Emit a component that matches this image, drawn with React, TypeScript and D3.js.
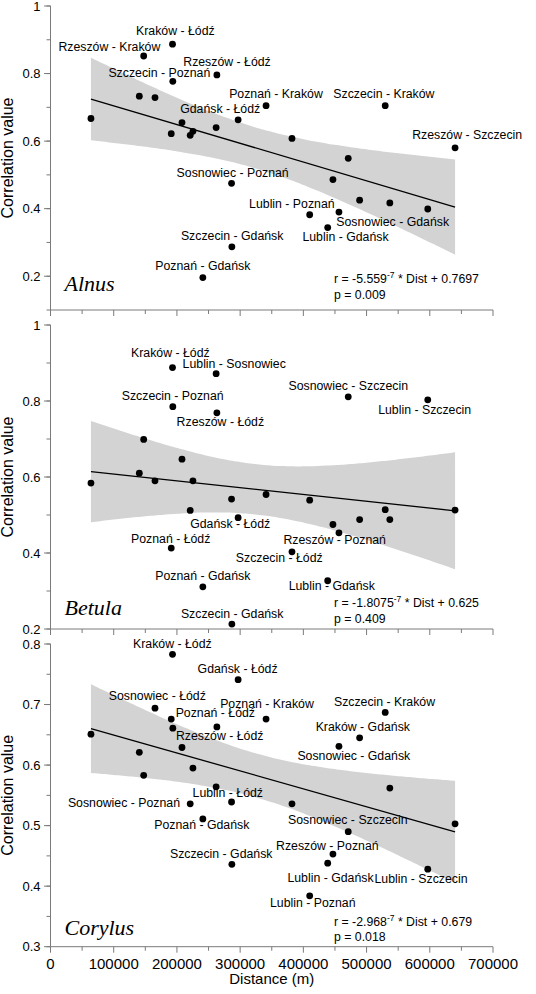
import React from 'react';
import * as d3 from 'd3';

// ---------- DATA ----------
const distances = [
  64000, 140500, 147400, 165300, 191000, 193000, 193500, 208000, 221000, 225300,
  241000, 262000, 263200, 286400, 286900, 296800, 341000, 382000, 410000, 438500,
  446800, 456300, 471000, 489000, 529500, 536800, 596800, 640000,
];

const alnusValues = [
  0.667, 0.733, 0.852, 0.729, 0.622, 0.887, 0.777, 0.655, 0.617, 0.629,
  0.196, 0.640, 0.796, 0.475, 0.287, 0.663, 0.705, 0.608, 0.382, 0.344,
  0.486, 0.390, 0.549, 0.425, 0.705, 0.417, 0.399, 0.580,
];

const betulaValues = [
  0.584, 0.610, 0.699, 0.590, 0.413, 0.888, 0.785, 0.647, 0.512, 0.590,
  0.311, 0.872, 0.769, 0.542, 0.213, 0.493, 0.554, 0.403, 0.539, 0.327,
  0.475, 0.453, 0.811, 0.488, 0.514, 0.488, 0.803, 0.513,
];

const corylusValues = [
  0.651, 0.621, 0.583, 0.694, 0.676, 0.783, 0.661, 0.629, 0.536, 0.595,
  0.511, 0.564, 0.663, 0.539, 0.436, 0.741, 0.676, 0.536, 0.384, 0.438,
  0.453, 0.631, 0.490, 0.645, 0.687, 0.562, 0.428, 0.503,
];

// label text, anchor distance, anchor value (data units)
const alnusLabels: [string, number, number][] = [
  ['Kraków - Łódź', 135300, 0.914],
  ['Rzeszów - Kraków', 12600, 0.867],
  ['Rzeszów - Łódź', 210000, 0.823],
  ['Szczecin - Poznań', 91600, 0.791],
  ['Poznań - Kraków', 282600, 0.727],
  ['Szczecin - Kraków', 447400, 0.727],
  ['Gdańsk - Łódź', 205200, 0.684],
  ['Rzeszów - Szczecin', 572100, 0.606],
  ['Sosnowiec - Poznań', 199500, 0.495],
  ['Lublin - Poznań', 314200, 0.401],
  ['Sosnowiec - Gdańsk', 452100, 0.350],
  ['Lublin - Gdańsk', 398500, 0.304],
  ['Szczecin - Gdańsk', 206300, 0.307],
  ['Poznań - Gdańsk', 165800, 0.218],
];

const betulaLabels: [string, number, number][] = [
  ['Kraków - Łódź', 127400, 0.917],
  ['Lublin - Sosnowiec', 209000, 0.888],
  ['Sosnowiec - Szczecin', 376400, 0.829],
  ['Szczecin - Poznań', 112700, 0.803],
  ['Lublin - Szczecin', 518400, 0.765],
  ['Rzeszów - Łódź', 199500, 0.734],
  ['Gdańsk - Łódź', 221000, 0.467],
  ['Poznań - Łódź', 127400, 0.427],
  ['Rzeszów - Poznań', 368500, 0.423],
  ['Szczecin - Łódź', 293200, 0.377],
  ['Poznań - Gdańsk', 165800, 0.329],
  ['Lublin - Gdańsk', 376800, 0.303],
  ['Szczecin - Gdańsk', 206300, 0.230],
];

const corylusLabels: [string, number, number][] = [
  ['Kraków - Łódź', 130600, 0.794],
  ['Gdańsk - Łódź', 232700, 0.752],
  ['Sosnowiec - Łódź', 92200, 0.708],
  ['Poznań - Kraków', 268400, 0.694],
  ['Szczecin - Kraków', 448400, 0.698],
  ['Poznań - Łódź', 198000, 0.679],
  ['Kraków - Gdańsk', 419500, 0.656],
  ['Rzeszów - Łódź', 198400, 0.641],
  ['Sosnowiec - Gdańsk', 390600, 0.608],
  ['Lublin - Łódź', 224800, 0.548],
  ['Sosnowiec - Poznań', 27500, 0.531],
  ['Poznań - Gdańsk', 164200, 0.494],
  ['Sosnowiec - Szczecin', 375700, 0.502],
  ['Rzeszów - Poznań', 356800, 0.459],
  ['Szczecin - Gdańsk', 189000, 0.447],
  ['Lublin - Gdańsk', 374800, 0.407],
  ['Lublin - Szczecin', 512600, 0.405],
  ['Lublin - Poznań', 347300, 0.365],
];

const speciesNames = ['Alnus', 'Betula', 'Corylus'];
const slopeTexts = ['-5.559', '-1.8075', '-2.968'];
const interceptTexts = ['0.7697', '0.625', '0.679'];
const pTexts = ['0.009', '0.409', '0.018'];
// anchor of species name and equation block (distance, value)
const nameAnchors: [number, number][] = [[22100, 0.156], [22100, 0.237], [22100, 0.319]];
const eqAnchors: [number, number, number][] = [[448400, 0.181, 0.133], [448400, 0.259, 0.217], [448400, 0.334, 0.309]];

const xTicksMajor = [0, 100000, 200000, 300000, 400000, 500000, 600000, 700000];
const alnusYTicks = [0.2, 0.4, 0.6, 0.8, 1];
const betulaYTicks = [0.2, 0.4, 0.6, 0.8, 1];
const corylusYTicks = [0.3, 0.4, 0.5, 0.6, 0.7, 0.8];

// ---------- LAYOUT ----------
const W = 536;
const H = 994;
const X0 = 50.5;
const X1 = 493;
const panels = [
  { values: alnusValues, labels: alnusLabels, domain: [0.1, 1], range: [310, 6], ticks: alnusYTicks, minorStep: 0.1 },
  { values: betulaValues, labels: betulaLabels, domain: [0.2, 1], range: [629, 325], ticks: betulaYTicks, minorStep: 0.1 },
  { values: corylusValues, labels: corylusLabels, domain: [0.3, 0.8], range: [946.7, 644], ticks: corylusYTicks, minorStep: 0.05 },
];

const SANS = '"Liberation Sans", Arial, Helvetica, sans-serif';
const SERIF = '"Liberation Serif", "Times New Roman", serif';
const AXIS = '#7a7a7a';

function fit(xs: number[], ys: number[]) {
  const n = xs.length;
  const mx = d3.mean(xs)!;
  const my = d3.mean(ys)!;
  let sxx = 0, sxy = 0;
  for (let i = 0; i < n; i++) {
    sxx += (xs[i] - mx) ** 2;
    sxy += (xs[i] - mx) * (ys[i] - my);
  }
  const b = sxy / sxx;
  const a = my - b * mx;
  let sse = 0;
  for (let i = 0; i < n; i++) sse += (ys[i] - (a + b * xs[i])) ** 2;
  const s = Math.sqrt(sse / (n - 2));
  const t = 2.056;
  const [lo, hi] = d3.extent(xs) as [number, number];
  const band = d3.range(0, 81).map((k) => {
    const x = lo + ((hi - lo) * k) / 80;
    const yh = a + b * x;
    const h = t * s * Math.sqrt(1 / n + (x - mx) ** 2 / sxx);
    return { x, y0: yh - h, y1: yh + h, yh };
  });
  return { a, b, band, lo, hi };
}

export default function App() {
  const x = d3.scaleLinear().domain([0, 700000]).range([X0, X1]);
  const xMinor = d3.range(0, 700001, 50000);

  return (
    <svg
      width={W}
      height={H}
      viewBox={`0 0 ${W} ${H}`}
      style={{ position: 'absolute', left: 0, top: 0, background: '#fff', display: 'block' }}
    >
      <rect x={0} y={0} width={W} height={H} fill="#fff" />
      {panels.map((p, pi) => {
        const y = d3.scaleLinear().domain(p.domain).range(p.range);
        const f = fit(distances, p.values);
        const area = d3
          .area<{ x: number; y0: number; y1: number }>()
          .x((d) => x(d.x))
          .y0((d) => y(d.y0))
          .y1((d) => y(d.y1))
          .curve(d3.curveMonotoneX);
        const minorY = d3.range(p.domain[0], p.domain[1] + 1e-9, p.minorStep);
        const yBottom = p.range[0];
        const yTop = p.range[1];
        const [nx, ny] = nameAnchors[pi];
        const [ex, ey1, ey2] = eqAnchors[pi];
        return (
          <g key={pi}>
            <path d={area(f.band) || ''} fill="#d3d3d3" />
            <line
              x1={x(f.lo)}
              x2={x(f.hi)}
              y1={y(f.a + f.b * f.lo)}
              y2={y(f.a + f.b * f.hi)}
              stroke="#000"
              strokeWidth={1.3}
            />
            {/* y axis */}
            <line x1={X0} x2={X0} y1={yBottom} y2={yTop} stroke={AXIS} strokeWidth={1} />
            {minorY.map((v, i) => (
              <line key={'m' + i} x1={X0 - 4} x2={X0} y1={y(v)} y2={y(v)} stroke={AXIS} strokeWidth={1} />
            ))}
            {p.ticks.map((v) => (
              <g key={'t' + v}>
                <line x1={X0 - 6.5} x2={X0} y1={y(v)} y2={y(v)} stroke={AXIS} strokeWidth={1} />
                <text
                  x={X0 - 10}
                  y={y(v)}
                  dy="0.35em"
                  textAnchor="end"
                  fontFamily={SANS}
                  fontSize={13}
                  fill="#000"
                >
                  {d3.format('~g')(v)}
                </text>
              </g>
            ))}
            <text
              transform={`translate(12.5, ${(yTop + yBottom) / 2}) rotate(-90)`}
              textAnchor="middle"
              fontFamily={SANS}
              fontSize={16}
              fill="#000"
            >
              Correlation value
            </text>
            {/* x axis */}
            <line x1={X0} x2={X1} y1={yBottom} y2={yBottom} stroke={AXIS} strokeWidth={1} />
            {xMinor.map((v) => (
              <line
                key={'x' + v}
                x1={x(v)}
                x2={x(v)}
                y1={yBottom}
                y2={yBottom + (v % 100000 === 0 ? 6 : 4)}
                stroke={AXIS}
                strokeWidth={1}
              />
            ))}
            {/* points */}
            {distances.map((d, i) => (
              <circle key={'c' + i} cx={x(d)} cy={y(p.values[i])} r={3.4} fill="#000" />
            ))}
            {/* labels */}
            {p.labels.map(([t, lx, ly], i) => (
              <text key={'l' + i} x={x(lx)} y={y(ly)} fontFamily={SANS} fontSize={12.3} fill="#000">
                {t}
              </text>
            ))}
            <text x={x(nx)} y={y(ny)} fontFamily={SERIF} fontStyle="italic" fontSize={22} fill="#000">
              {speciesNames[pi]}
            </text>
            <text x={x(ex)} y={y(ey1)} fontFamily={SANS} fontSize={12.3} fill="#000">
              {`r = ${slopeTexts[pi]}`}
              <tspan dy={-5} fontSize={8.5}>
                -7
              </tspan>
              <tspan dy={5}>{` * Dist + ${interceptTexts[pi]}`}</tspan>
            </text>
            <text x={x(ex)} y={y(ey2)} fontFamily={SANS} fontSize={12.3} fill="#000">
              {`p = ${pTexts[pi]}`}
            </text>
            {pi === panels.length - 1 &&
              xTicksMajor.map((v) => (
                <text
                  key={'xl' + v}
                  x={x(v)}
                  y={968.5}
                  textAnchor="middle"
                  fontFamily={SANS}
                  fontSize={15}
                  fill="#000"
                >
                  {v}
                </text>
              ))}
          </g>
        );
      })}
      <text x={(X0 + X1) / 2} y={984} textAnchor="middle" fontFamily={SANS} fontSize={15} fill="#000">
        Distance (m)
      </text>
    </svg>
  );
}
